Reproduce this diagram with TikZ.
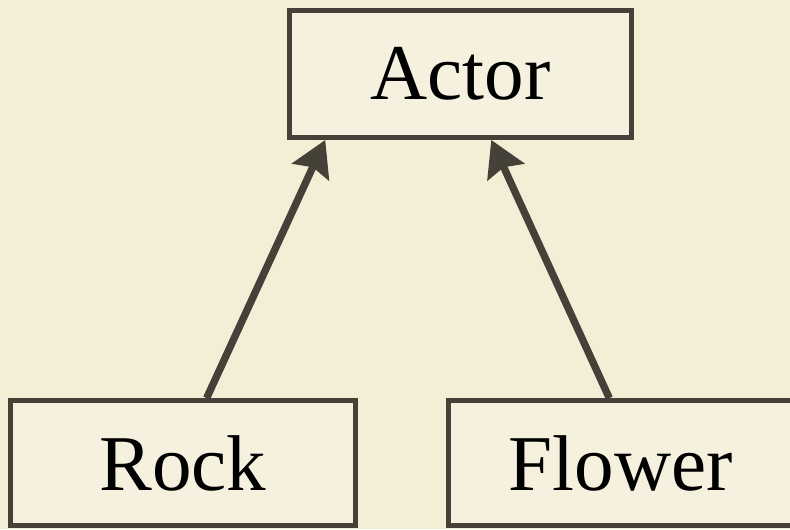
\documentclass[tikz,border=0pt]{standalone}
\usepackage{fontspec}
\setmainfont{Liberation Serif}
\usepackage{tikz}
\usetikzlibrary{arrows.meta}
\usetikzlibrary{positioning}

\definecolor{paper}{RGB}{243,238,214}
\definecolor{boxfill}{RGB}{245,241,222}
\definecolor{ink}{RGB}{69,65,56}

\begin{document}
\begin{tikzpicture}[
        classbox/.style = {draw = ink, fill = boxfill, line width = 2.8pt, rectangle,
                           minimum height = 2.5cm, font = \fontsize{45}{54}\selectfont},
        inherit/.style = {-{Stealth[length = 0.7cm, width = 0.8cm, inset = 0.1cm]},
                          draw = ink, line width = 4.2pt}
    ]

        % Canvas and background
        \useasboundingbox (0,0) rectangle (15.8,10.58);
        \clip (0,0) rectangle (15.8,10.58);
        \fill[paper] (0,0) rectangle (15.8,10.58);

        % Classes
        \node[classbox, minimum width = 6.84cm, minimum height = 2.54cm] (actor) at (9.21,9.10) {Actor};
        \node[classbox, minimum width = 6.9cm] (rock) at (3.66,1.32) {Rock};
        \node[classbox, minimum width = 6.89cm] (flower) at (12.415,1.32) {Flower};

        % Inheritance arrows
        \draw[inherit] (rock.70) -- (actor.206);
        \draw[inherit] (flower.100) -- (actor.295);
    \end{tikzpicture}
\end{document}
